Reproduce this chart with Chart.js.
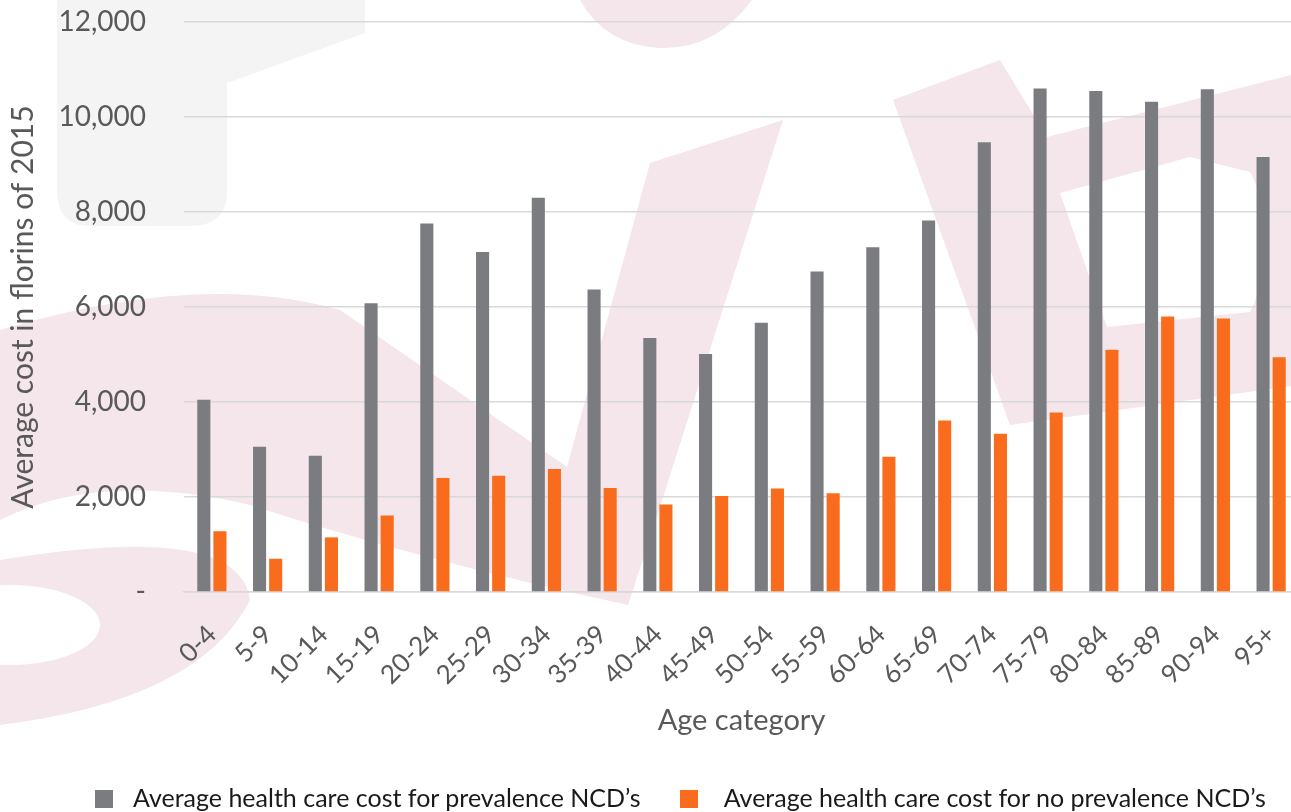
<!DOCTYPE html>
<html>
<head>
<meta charset="utf-8">
<script src="https://cdn.jsdelivr.net/npm/chart.js@4.4.1/dist/chart.umd.min.js"></script>
<style>
    html, body {
        margin: 0;
        padding: 0;
        background: #ffffff;
        overflow: hidden;
    }
    #wrap {
        position: relative;
        width: 1291px;
        height: 812px;
        overflow: hidden;
    }
    #box {
        position: absolute;
        left: 0;
        top: 0;
        width: 1299px;
        height: 812px;
    }
    #legend {
        position: absolute;
        top: 782px;
        left: 95px;
        font-family: Lato, sans-serif;
        font-size: 25px;
        color: #1a1a1a;
        white-space: nowrap;
    }
    #legend span.item {
        display: inline-block;
        margin-right: 39px;
    }
    #legend span.swatch {
        display: inline-block;
        width: 18px;
        height: 18px;
        margin-right: 20px;
        vertical-align: -1px;
    }
    #legend span.item + span.item span.swatch {
        margin-right: 26px;
    }
</style>
</head>
<body>
<div id="wrap">
    <div id="box"><canvas id="costChart"></canvas></div>
    <div id="legend"></div>
</div>
<script>
// Age bands and average cost per person (florins of 2015)
const AGE_CATEGORIES = [
    "0-4", "5-9", "10-14", "15-19", "20-24", "25-29", "30-34", "35-39", "40-44", "45-49",
    "50-54", "55-59", "60-64", "65-69", "70-74", "75-79", "80-84", "85-89", "90-94", "95+"
];

const COST_PREVALENCE = [
    4050, 3060, 2870, 6080, 7760, 7160, 8300, 6370, 5350, 5010,
    5670, 6750, 7260, 7820, 9470, 10600, 10550, 10320, 10585, 9160
];

const COST_NO_PREVALENCE = [
    1280, 700, 1150, 1610, 2400, 2450, 2590, 2190, 1840, 2020,
    2180, 2080, 2850, 3610, 3330, 3780, 5100, 5800, 5760, 4940
];

const Y_TICKS = [0, 2000, 4000, 6000, 8000, 10000, 12000];

const SERIES_LABELS = [
    "Average health care cost for prevalence NCD\u2019s",
    "Average health care cost for no prevalence NCD\u2019s"
];
const SERIES_COLORS = ['#7b7c80', '#fa6c1d'];

const TEXT_GREY = '#595959';
const FONT = 'Lato';

// faint logo printed behind the plot
const backdrop = {
    id: 'backdrop',
    beforeDraw(chart) {
        const c = chart.ctx;
        c.save();

        // grey block, top left
        c.fillStyle = '#f4f4f4';
        c.beginPath();
        c.moveTo(57, 0);
        c.lineTo(365, 0);
        c.lineTo(365, 33);
        c.lineTo(227, 83);
        c.lineTo(227, 195);
        c.quadraticCurveTo(225, 226, 190, 226);
        c.lineTo(90, 226);
        c.quadraticCurveTo(57, 226, 57, 190);
        c.closePath();
        c.fill();

        c.fillStyle = '#f4e6ea';

        // blob at the top
        c.beginPath();
        c.moveTo(580, 0);
        c.lineTo(752, 0);
        c.quadraticCurveTo(715, 50, 660, 48);
        c.quadraticCurveTo(605, 45, 580, 0);
        c.closePath();
        c.fill();

        // the V in the middle
        c.beginPath();
        c.moveTo(0, 330);
        c.quadraticCurveTo(200, 270, 340, 310);
        c.lineTo(567, 467);
        c.lineTo(650, 163);
        c.lineTo(783, 120);
        c.lineTo(660, 507);
        c.lineTo(628, 605);
        c.quadraticCurveTo(420, 560, 250, 505);
        c.quadraticCurveTo(100, 470, 0, 520);
        c.closePath();
        c.fill();

        // curl at the bottom left
        c.beginPath();
        c.moveTo(0, 560);
        c.quadraticCurveTo(240, 520, 250, 600);
        c.quadraticCurveTo(200, 700, 0, 725);
        c.closePath();
        c.ellipse(10, 625, 90, 40, 0, 0, Math.PI * 2);
        c.fill('evenodd');

        // letter on the right, with its hole
        c.beginPath();
        c.moveTo(893, 100);
        c.lineTo(1000, 60);
        c.lineTo(1047, 137);
        c.lineTo(1291, 75);
        c.lineTo(1299, 385);
        c.lineTo(1010, 425);
        c.closePath();
        c.moveTo(1060, 193);
        c.lineTo(1107, 327);
        c.lineTo(1250, 312);
        c.quadraticCurveTo(1285, 240, 1250, 172);
        c.lineTo(1190, 157);
        c.closePath();
        c.fill('evenodd');

        c.restore();
    }
};

let ctx = document.getElementById('costChart').getContext('2d');
let chart = new Chart(ctx, {
    type: 'bar',
    data: {
        labels: AGE_CATEGORIES,
        datasets: [{
            label: SERIES_LABELS[0],
            data: COST_PREVALENCE,
            backgroundColor: SERIES_COLORS[0]
        }, {
            label: SERIES_LABELS[1],
            data: COST_NO_PREVALENCE,
            backgroundColor: SERIES_COLORS[1]
        }]
    },
    plugins: [backdrop],
    options: {
        responsive: true,
        maintainAspectRatio: false,
        animation: false,
        categoryPercentage: 0.578,
        barPercentage: 0.8125,
        layout: {
            padding: {top: 22, bottom: 70, left: 0, right: 0}
        },
        plugins: {
            legend: {display: false},
            tooltip: {enabled: false}
        },
        scales: {
            x: {
                grid: {display: false, drawTicks: false},
                border: {color: '#d9d9d9', width: 1.5},
                ticks: {
                    color: TEXT_GREY,
                    font: {family: FONT, size: 26},
                    minRotation: 45,
                    maxRotation: 45,
                    padding: 27,
                    autoSkip: false
                },
                title: {
                    display: true,
                    text: 'Age category',
                    color: TEXT_GREY,
                    font: {family: FONT, size: 29},
                    padding: {top: 0, bottom: 4}
                },
                afterFit: function (scale) {
                    scale.height = 150;
                    // plot runs right up to the edges, labels may overhang
                    scale.paddingLeft = 0;
                    scale.paddingRight = 0;
                }
            },
            y: {
                min: 0,
                max: 12000,
                afterBuildTicks: function (scale) {
                    scale.ticks = Y_TICKS.map(v => ({value: v}));
                },
                grid: {color: '#d9d9d9', lineWidth: 1.5, drawTicks: false},
                border: {display: false},
                ticks: {
                    color: TEXT_GREY,
                    font: {family: FONT, size: 28},
                    padding: 38,
                    callback: function (value) {
                        return value === 0 ? '-' : value.toLocaleString('en-US');
                    }
                },
                title: {
                    display: true,
                    text: 'Average cost in florins of 2015',
                    color: TEXT_GREY,
                    font: {family: FONT, size: 30},
                    padding: {top: 5, bottom: 0}
                },
                afterFit: function (scale) {
                    scale.width = 184;
                    scale.paddingTop = 0;
                    scale.paddingBottom = 0;
                }
            }
        }
    }
});

// legend under the chart, built from the datasets
let legend = document.getElementById('legend');
chart.data.datasets.forEach(function (ds) {
    let item = document.createElement('span');
    item.className = 'item';
    let swatch = document.createElement('span');
    swatch.className = 'swatch';
    swatch.style.background = ds.backgroundColor;
    item.appendChild(swatch);
    item.appendChild(document.createTextNode(ds.label));
    legend.appendChild(item);
});
</script>
</body>
</html>
